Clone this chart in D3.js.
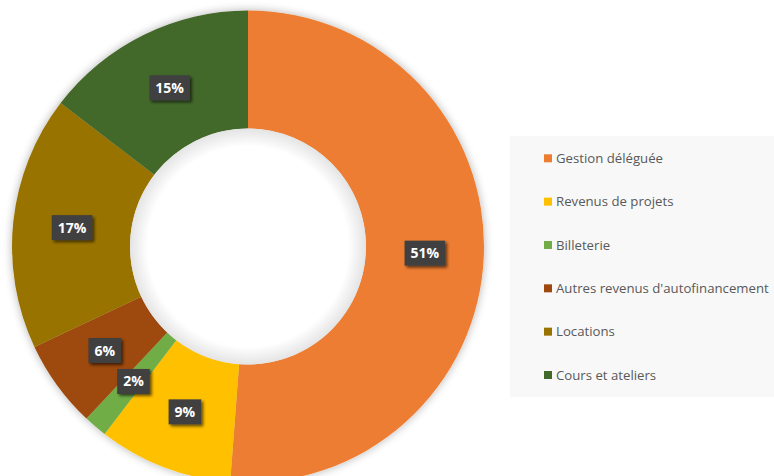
<!DOCTYPE html>
<html><head><meta charset="utf-8">
<script src="https://cdn.jsdelivr.net/npm/d3@7"></script>
<style>body{margin:0;background:#fff;}svg{display:block;}</style>
</head><body>
<svg id="c" width="774" height="476"></svg>
<script>
const categories = ["Gestion déléguée","Revenus de projets","Billeterie","Autres revenus d'autofinancement","Locations","Cours et ateliers"];
const values = [51.2, 9.2, 1.6, 6.0, 17.4, 14.6];
const labels = ["51%","9%","2%","6%","17%","15%"];
const colors = ["#ED7D31","#FFC000","#70AD47","#9E480E","#997300","#43682B"];

const svg = d3.select("#c");
const defs = svg.append("defs");
const sh = defs.append("filter").attr("id","sh").attr("x","-10%").attr("y","-10%").attr("width","120%").attr("height","120%");
sh.append("feGaussianBlur").attr("in","SourceAlpha").attr("stdDeviation",5).attr("result","b");
sh.append("feOffset").attr("in","b").attr("dx",0).attr("dy",0).attr("result","o");
sh.append("feComponentTransfer").attr("in","o").attr("result","o2").append("feFuncA").attr("type","linear").attr("slope",0.3);
const m = sh.append("feMerge"); m.append("feMergeNode").attr("in","o2"); m.append("feMergeNode").attr("in","SourceGraphic");
const ls = defs.append("filter").attr("id","ls").attr("x","-30%").attr("y","-30%").attr("width","160%").attr("height","160%");
ls.append("feGaussianBlur").attr("in","SourceAlpha").attr("stdDeviation",1.5).attr("result","b");
ls.append("feOffset").attr("in","b").attr("dx",2).attr("dy",2).attr("result","o");
ls.append("feComponentTransfer").attr("in","o").attr("result","o2").append("feFuncA").attr("type","linear").attr("slope",0.6);
const m2 = ls.append("feMerge"); m2.append("feMergeNode").attr("in","o2"); m2.append("feMergeNode").attr("in","SourceGraphic");
const ig = defs.append("radialGradient").attr("id","ig");
ig.append("stop").attr("offset","85%").attr("stop-color","#ffffff");
ig.append("stop").attr("offset","100%").attr("stop-color","#e4e4e4");

const cx = 248, cy = 246.5, R = 236, r = 118;
const g = svg.append("g").attr("transform",`translate(${cx},${cy})`);
const pie = d3.pie().sort(null).value(d=>d)(values);
const arc = d3.arc().innerRadius(r).outerRadius(R);
g.append("g").attr("filter","url(#sh)").selectAll("path").data(pie).join("path")
  .attr("d",arc).attr("fill",(d,i)=>colors[i]);
g.append("circle").attr("r",r).attr("fill","url(#ig)");

const lab = d3.arc().innerRadius((R+r)/2).outerRadius((R+r)/2);
const lg = g.selectAll("g.l").data(pie).join("g").attr("class","l")
  .attr("transform",d=>`translate(${lab.centroid(d)})`);
lg.each(function(d,i){
  const s = d3.select(this);
  const t = s.append("text").text(labels[i]).attr("text-anchor","middle").attr("dy","0.36em")
    .attr("font-family","Open Sans, sans-serif").attr("font-weight","bold").attr("font-size","14px").attr("fill","#fff");
  const w = t.node().getComputedTextLength();
  s.insert("rect","text").attr("x",-w/2-6).attr("y",-12.5).attr("width",w+12).attr("height",25)
    .attr("fill","#404040").attr("filter","url(#ls)");
});

const leg = svg.append("g");
leg.append("rect").attr("x",510).attr("y",136).attr("width",264).attr("height",261).attr("fill","#f8f8f8");
const y = d3.scalePoint().domain(categories).range([158.3,375]);
const it = leg.selectAll("g.i").data(categories).join("g").attr("class","i")
  .attr("transform",d=>`translate(544,${y(d)})`);
it.append("rect").attr("x",0).attr("y",-4).attr("width",8).attr("height",8).attr("fill",(d,i)=>colors[i]);
it.append("text").attr("x",12).attr("dy","0.35em").text(d=>d)
  .attr("font-family","Open Sans, sans-serif").attr("font-size","13.2px").attr("fill","#595959");
</script>
</body></html>
